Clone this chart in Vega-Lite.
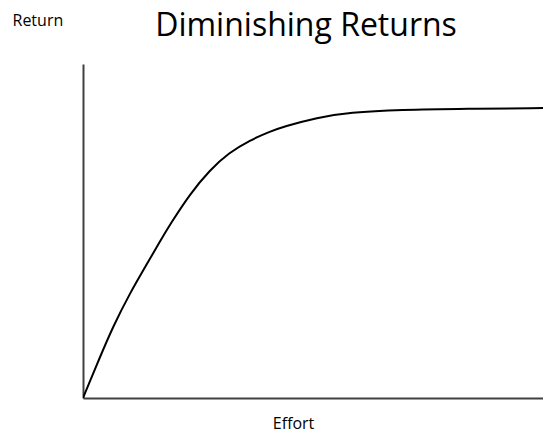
{
  "$schema": "https://vega.github.io/schema/vega-lite/v6.json",
  "width": 460,
  "height": 334,
  "autosize": {"type": "none"},
  "padding": {"left": 83, "top": 64, "right": 0, "bottom": 34},
  "background": "white",
  "title": {
    "text": "Diminishing Returns",
    "font": "Open Sans",
    "fontSize": 32,
    "fontWeight": "normal",
    "color": "#000000",
    "anchor": "middle",
    "baseline": "alphabetic",
    "offset": -56,
    "dx": -7
  },
  "data": {
    "values": [
      {"effort": 0, "return": 0},
      {"effort": 3.7, "return": 12.3},
      {"effort": 6.5, "return": 21.3},
      {"effort": 10.2, "return": 31.4},
      {"effort": 14.1, "return": 40.6},
      {"effort": 16.7, "return": 46.8},
      {"effort": 18.9, "return": 51.9},
      {"effort": 23.3, "return": 61.2},
      {"effort": 27.6, "return": 68.3},
      {"effort": 31.7, "return": 73.4},
      {"effort": 36.3, "return": 77.2},
      {"effort": 40.7, "return": 79.8},
      {"effort": 43.5, "return": 81.2},
      {"effort": 50.9, "return": 84.0},
      {"effort": 58.0, "return": 85.5},
      {"effort": 68.9, "return": 86.3},
      {"effort": 83.5, "return": 86.6},
      {"effort": 100, "return": 86.8}
    ]
  },
  "mark": {"type": "line", "color": "#000000", "strokeWidth": 2, "interpolate": "basis", "clip": true},
  "encoding": {
    "x": {
      "field": "effort",
      "type": "quantitative",
      "scale": {"domain": [0, 100], "nice": false, "zero": true},
      "axis": {
        "title": "Effort",
        "titleFont": "Open Sans",
        "titleFontSize": 16,
        "titleFontWeight": "normal",
        "titleColor": "#000000",
        "titleX": 210,
        "titleY": 30,
        "titleAlign": "center",
        "titleBaseline": "alphabetic",
        "labels": false,
        "ticks": false,
        "grid": false,
        "domainColor": "#404040",
        "domainWidth": 2
      }
    },
    "y": {
      "field": "return",
      "type": "quantitative",
      "scale": {"domain": [0, 100], "nice": false, "zero": true},
      "axis": {
        "title": "Return",
        "titleFont": "Open Sans",
        "titleFontSize": 16,
        "titleFontWeight": "normal",
        "titleColor": "#000000",
        "titleAngle": 0,
        "titleX": -71,
        "titleY": -39,
        "titleAlign": "left",
        "titleBaseline": "alphabetic",
        "labels": false,
        "ticks": false,
        "grid": false,
        "domainColor": "#404040",
        "domainWidth": 2
      }
    }
  },
  "config": {"view": {"stroke": null}}
}
